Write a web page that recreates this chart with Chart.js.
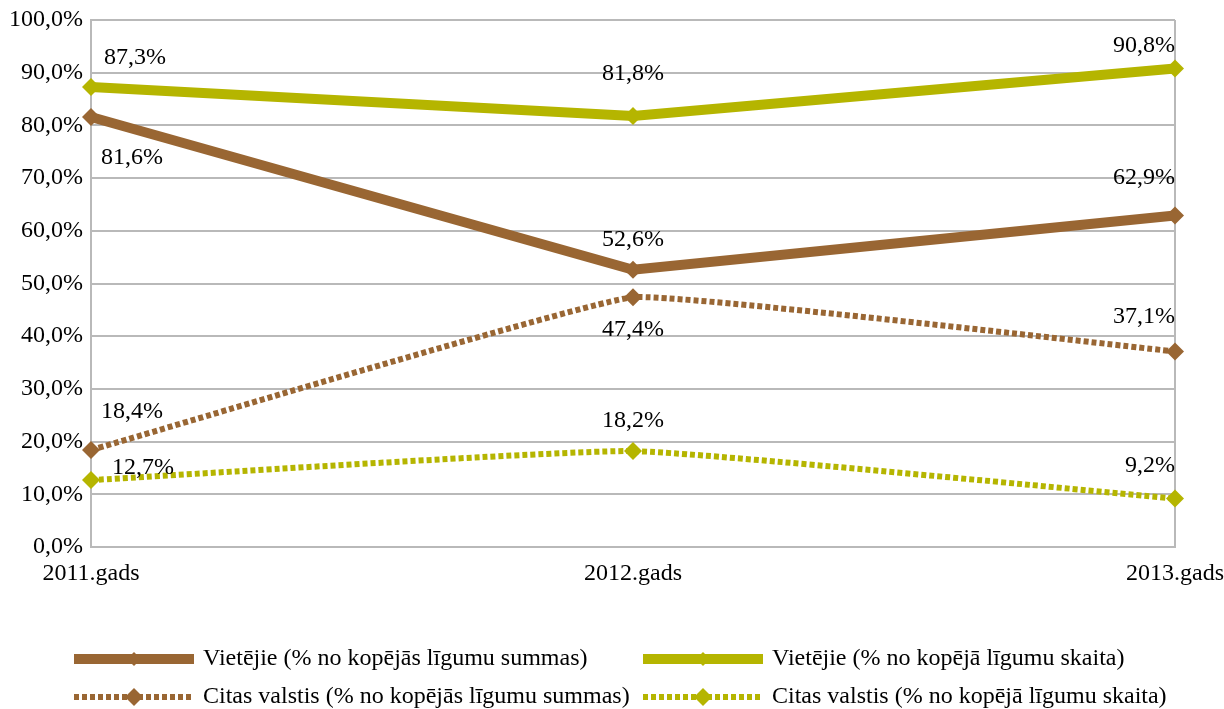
<!DOCTYPE html>
<html>
<head>
<meta charset="utf-8">
<script src="https://cdn.jsdelivr.net/npm/chart.js@4/dist/chart.umd.min.js"></script>
<style>
  html, body { margin: 0; padding: 0; background: #fff; }
  #wrap { width: 1224px; height: 709px; }
</style>
</head>
<body>
<div id="wrap"><canvas id="myChart" width="1224" height="709"></canvas></div>
<script>
const years = ['2011.gads', '2012.gads', '2013.gads'];
const localSum = [81.6, 52.6, 62.9];
const localCount = [87.3, 81.8, 90.8];
const foreignSum = [18.4, 47.4, 37.1];
const foreignCount = [12.7, 18.2, 9.2];

const seriesNames = [
  'Vietējie (% no kopējās līgumu summas)',
  'Vietējie (% no kopējā līgumu skaita)',
  'Citas valstis (% no kopējās līgumu summas)',
  'Citas valstis (% no kopējā līgumu skaita)'
];

const brown = 'rgb(153, 102, 51)';
const olive = 'rgb(181, 181, 0)';
const FONT = '"Liberation Serif", "Times New Roman", serif';
const FSIZE = 24;

// offset of each value label from its point (px), per series
const labelDy = [
  [41, -30, -38],
  [-29, -42, -23],
  [-38, 33, -35],
  [-12, -30, -33]
];
const labelDx = [
  [10, 0, 0],
  [13, 0, 0],
  [10, 0, 0],
  [21, 0, 0]
];

const fmt = v => v.toFixed(1).replace('.', ',') + '%';

const data = {
  labels: years,
  datasets: [
    { label: seriesNames[0], data: localSum, borderColor: brown, backgroundColor: brown,
      borderWidth: 10, pointRadius: 9, tension: 0 },
    { label: seriesNames[1], data: localCount, borderColor: olive, backgroundColor: olive,
      borderWidth: 10, pointRadius: 9, tension: 0 },
    { label: seriesNames[2], data: foreignSum, borderColor: brown, backgroundColor: brown,
      borderWidth: 6, borderDash: [5, 3], pointRadius: 9, tension: 0.08 },
    { label: seriesNames[3], data: foreignCount, borderColor: olive, backgroundColor: olive,
      borderWidth: 6, borderDash: [5, 3], pointRadius: 9, tension: 0.12 }
  ]
};
data.datasets.forEach(ds => {
  ds.pointStyle = 'rectRot';
  ds.pointBorderWidth = 0;
  ds.pointHoverRadius = 9;
  ds.fill = false;
});

// value labels
const valueLabels = {
  id: 'valueLabels',
  afterDatasetsDraw(chart) {
    const { ctx } = chart;
    ctx.save();
    ctx.font = FSIZE + 'px ' + FONT;
    ctx.fillStyle = '#000';
    ctx.textBaseline = 'middle';
    chart.data.datasets.forEach((ds, i) => {
      chart.getDatasetMeta(i).data.forEach((pt, j) => {
        const last = j === ds.data.length - 1;
        ctx.textAlign = j === 0 ? 'left' : (last ? 'right' : 'center');
        ctx.fillText(fmt(ds.data[j]), pt.x + labelDx[i][j], pt.y + labelDy[i][j]);
      });
    });
    ctx.restore();
  }
};

// legend with line sample + diamond
const sketchLegend = {
  id: 'sketchLegend',
  afterDraw(chart) {
    const { ctx } = chart;
    const cols = [74, 643];
    const rows = [659, 697];
    const len = 120;
    ctx.save();
    chart.data.datasets.forEach((ds, i) => {
      const x = cols[i % 2];
      const y = rows[Math.floor(i / 2)];
      ctx.beginPath();
      ctx.setLineDash(ds.borderDash || []);
      ctx.lineWidth = ds.borderWidth;
      ctx.strokeStyle = ds.borderColor;
      ctx.moveTo(x, y);
      ctx.lineTo(x + len, y);
      ctx.stroke();
      ctx.setLineDash([]);
      const r = ds.borderDash ? 9 : 7;
      const cx = x + len / 2;
      ctx.fillStyle = ds.borderColor;
      ctx.beginPath();
      ctx.moveTo(cx, y - r);
      ctx.lineTo(cx + r, y);
      ctx.lineTo(cx, y + r);
      ctx.lineTo(cx - r, y);
      ctx.closePath();
      ctx.fill();
      ctx.font = FSIZE + 'px ' + FONT;
      ctx.fillStyle = '#000';
      ctx.textAlign = 'left';
      ctx.textBaseline = 'middle';
      ctx.fillText(ds.label, x + len + 9, y);
    });
    ctx.restore();
  }
};

const gridGray = 'rgb(185, 185, 185)';

const config = {
  type: 'line',
  data,
  options: {
    responsive: false,
    animation: false,
    layout: { padding: { top: 20, right: 49, bottom: 122, left: 0 } },
    plugins: {
      legend: { display: false },
      tooltip: { enabled: false }
    },
    scales: {
      x: {
        offset: false,
        grid: {
          color: c => c.index === 1 ? 'rgba(0,0,0,0)' : gridGray,
          lineWidth: 2,
          drawTicks: false
        },
        border: { color: gridGray, width: 2 },
        ticks: { font: { family: FONT, size: FSIZE }, color: '#000', padding: 12, maxRotation: 0 },
        afterFit(scale) {
          scale.height = 40;
          scale.paddingLeft = 0;
          scale.paddingRight = 0;
        }
      },
      y: {
        min: 0,
        max: 100,
        grid: { color: gridGray, lineWidth: 2, drawTicks: false },
        border: { color: gridGray, width: 2 },
        ticks: {
          stepSize: 10,
          font: { family: FONT, size: FSIZE },
          color: '#000',
          padding: 8,
          callback: v => fmt(v)
        },
        afterFit(scale) {
          scale.width = 91;
          scale.paddingTop = 0;
          scale.paddingBottom = 0;
        }
      }
    }
  },
  plugins: [valueLabels, sketchLegend]
};

const myChart = new Chart(document.getElementById('myChart'), config);
</script>
</body>
</html>
